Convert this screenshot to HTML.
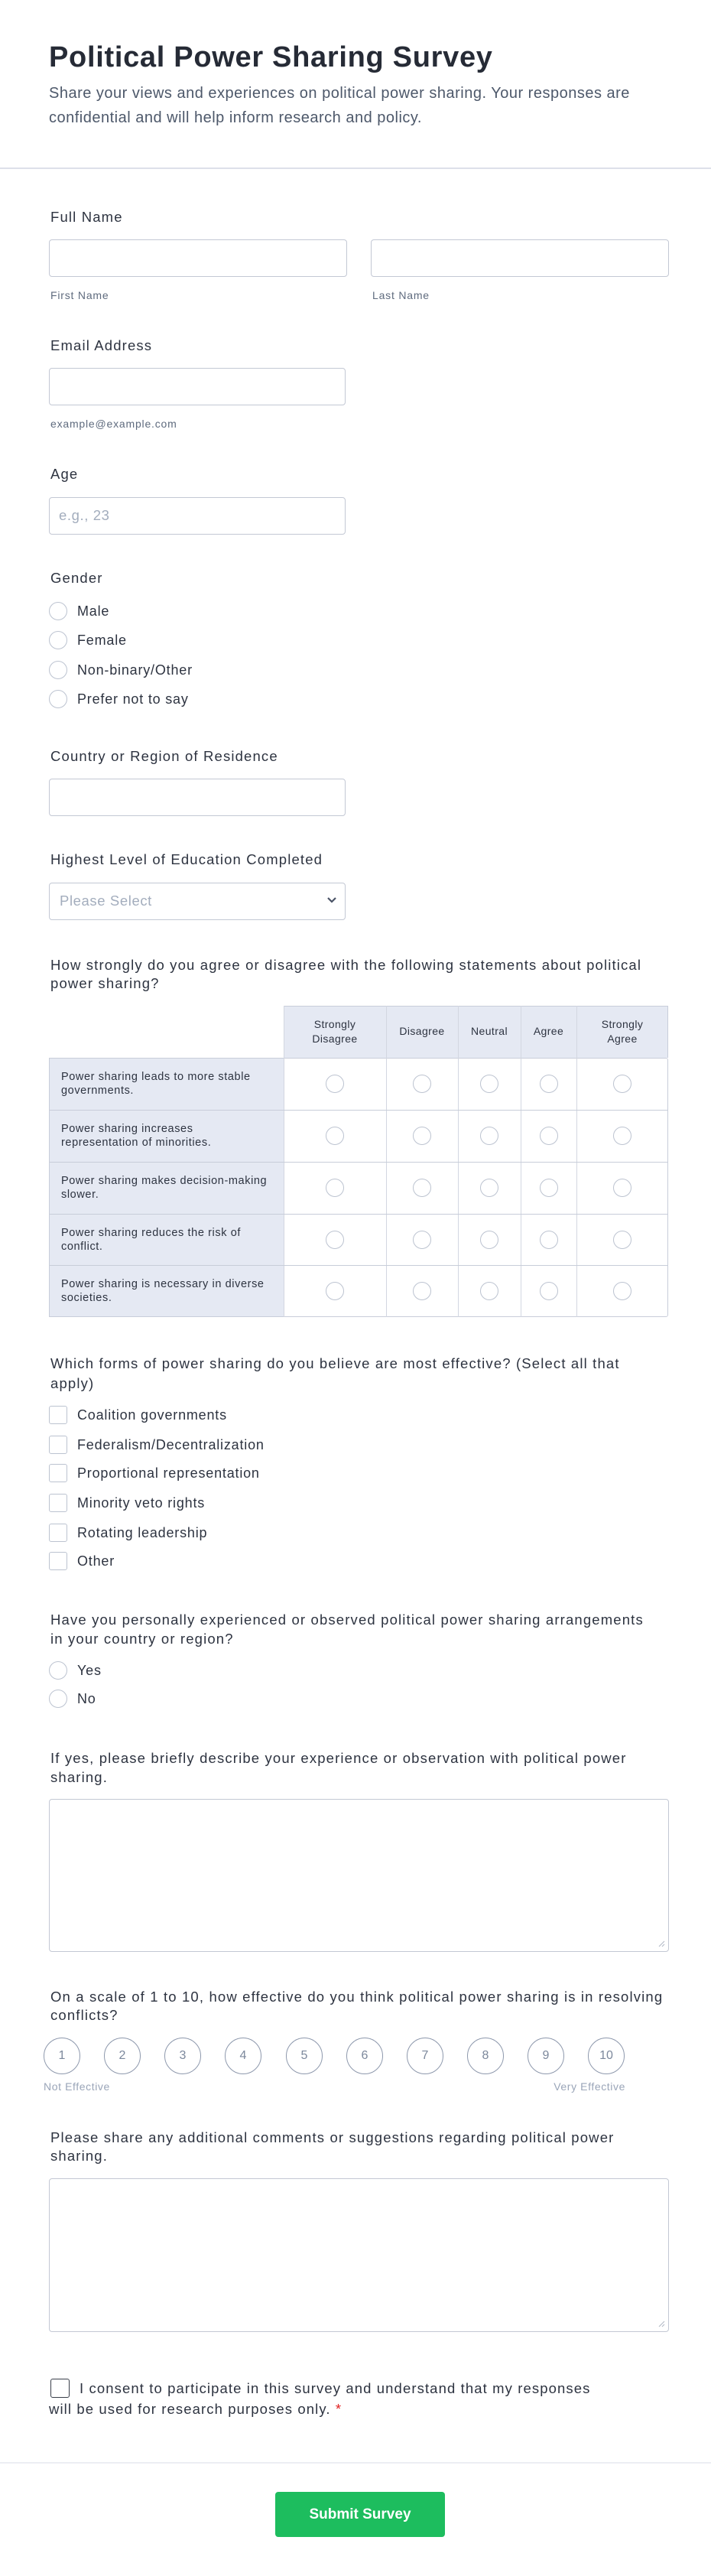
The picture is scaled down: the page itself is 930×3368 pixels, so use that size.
<!DOCTYPE html>
<html><head><meta charset="utf-8">
<style>
*{box-sizing:border-box;margin:0;padding:0}
html,body{width:930px;height:3368px;background:#fff;font-family:"Liberation Sans",sans-serif;color:#2d3340;position:relative;overflow:hidden}
.a{position:absolute;white-space:nowrap}
.lbl{font-size:18.5px;line-height:24px;color:#2d3340;letter-spacing:1.15px}
.opt{font-size:18px;line-height:24px;color:#2d3340;letter-spacing:0.8px}
.sub{font-size:14px;line-height:18px;color:#5f6b7e;letter-spacing:0.8px}
.inp{position:absolute;border:1px solid #c3c8d4;border-radius:4px;background:#fff;height:49px}
.rad{position:absolute;width:24px;height:24px;border:1.5px solid #bcc3d0;border-radius:50%;background:#fff}
.chk{position:absolute;width:24px;height:24px;border:1.5px solid #bcc3d0;border-radius:3px;background:#fff}
.sc{position:absolute;width:48px;height:48px;border:1.5px solid #8e99ad;border-radius:50%;font-size:16px;line-height:45px;text-align:center;color:#7c889c}
.rl{font-size:14.5px;line-height:18px;color:#2d3340;letter-spacing:0.6px}
.th{text-align:center;font-size:14px;line-height:19px;color:#2d3340;letter-spacing:0.4px}
</style></head><body>

<div class="a" style="left:64px;top:51px;font-size:38px;line-height:48px;font-weight:bold;color:#262b36;letter-spacing:0.7px">Political Power Sharing Survey</div>
<div class="a" style="left:64px;top:106px;font-size:20px;line-height:32px;color:#4d586a;letter-spacing:0.5px">Share your views and experiences on political power sharing. Your responses are<br>confidential and will help inform research and policy.</div>
<div class="a" style="left:0;top:219px;width:930px;height:2px;background:#dde0ea"></div>

<div class="a lbl" style="left:66px;top:272px">Full Name</div>
<div class="inp" style="left:64px;top:313px;width:390px"></div>
<div class="inp" style="left:485px;top:313px;width:390px"></div>
<div class="a sub" style="left:66px;top:377px">First Name</div>
<div class="a sub" style="left:487px;top:377px">Last Name</div>

<div class="a lbl" style="left:66px;top:440px">Email Address</div>
<div class="inp" style="left:64px;top:481px;width:388px"></div>
<div class="a sub" style="left:66px;top:545px">example@example.com</div>

<div class="a lbl" style="left:66px;top:608px">Age</div>
<div class="inp" style="left:64px;top:650px;width:388px"></div>
<div class="a" style="left:77px;top:662px;font-size:18.5px;line-height:24px;color:#a3adbd;letter-spacing:0.6px">e.g., 23</div>

<div class="a lbl" style="left:66px;top:744px">Gender</div>
<div class="rad" style="left:64px;top:787px"></div><div class="a opt" style="left:101px;top:787px">Male</div>
<div class="rad" style="left:64px;top:825px"></div><div class="a opt" style="left:101px;top:825px">Female</div>
<div class="rad" style="left:64px;top:864px"></div><div class="a opt" style="left:101px;top:864px">Non-binary/Other</div>
<div class="rad" style="left:64px;top:902px"></div><div class="a opt" style="left:101px;top:902px">Prefer not to say</div>

<div class="a lbl" style="left:66px;top:977px">Country or Region of Residence</div>
<div class="inp" style="left:64px;top:1018px;width:388px"></div>

<div class="a lbl" style="left:66px;top:1112px">Highest Level of Education Completed</div>
<div class="inp" style="left:64px;top:1154px;width:388px"></div>
<div class="a" style="left:78px;top:1166px;font-size:18.5px;line-height:24px;color:#a3adbd;letter-spacing:0.6px">Please Select</div>
<svg class="a" style="left:427px;top:1172px" width="14" height="10" viewBox="0 0 14 10"><path d="M2 2 L7 7 L12 2" fill="none" stroke="#4a5366" stroke-width="2.2"/></svg>

<div class="a lbl" style="left:66px;top:1250px">How strongly do you agree or disagree with the following statements about political<br>power sharing?</div>

<div class="a" style="left:371px;top:1315px;width:503px;height:68px;background:#e5e9f3;border:1px solid #c8cdd9;border-bottom:none"></div>
<div class="a" style="left:64px;top:1383px;width:810px;height:339px;border:1px solid #c8cdd9;border-radius:3px"></div>
<div class="a" style="left:64px;top:1383px;width:307px;height:339px;background:#e5e9f3;border:1px solid #c8cdd9;border-right:none"></div>
<div class="a" style="left:505px;top:1315px;width:1px;height:407px;background:#d3d7e1"></div>
<div class="a" style="left:599px;top:1315px;width:1px;height:407px;background:#d3d7e1"></div>
<div class="a" style="left:681px;top:1315px;width:1px;height:407px;background:#d3d7e1"></div>
<div class="a" style="left:754px;top:1315px;width:1px;height:407px;background:#d3d7e1"></div>
<div class="a" style="left:371px;top:1315px;width:1px;height:407px;background:#d3d7e1"></div>
<div class="a" style="left:64px;top:1451px;width:810px;height:1px;background:#c8cdd9"></div>
<div class="a" style="left:64px;top:1519px;width:810px;height:1px;background:#c8cdd9"></div>
<div class="a" style="left:64px;top:1587px;width:810px;height:1px;background:#c8cdd9"></div>
<div class="a" style="left:64px;top:1654px;width:810px;height:1px;background:#c8cdd9"></div>

<div class="a th" style="left:371px;top:1330px;width:134px">Strongly<br>Disagree</div>
<div class="a th" style="left:505px;top:1339px;width:94px">Disagree</div>
<div class="a th" style="left:599px;top:1339px;width:82px">Neutral</div>
<div class="a th" style="left:681px;top:1339px;width:73px">Agree</div>
<div class="a th" style="left:754px;top:1330px;width:120px">Strongly<br>Agree</div>

<div class="a rl" style="left:80px;top:1399px">Power sharing leads to more stable<br>governments.</div>
<div class="a rl" style="left:80px;top:1467px">Power sharing increases<br>representation of minorities.</div>
<div class="a rl" style="left:80px;top:1535px">Power sharing makes decision-making<br>slower.</div>
<div class="a rl" style="left:80px;top:1603px">Power sharing reduces the risk of<br>conflict.</div>
<div class="a rl" style="left:80px;top:1670px">Power sharing is necessary in diverse<br>societies.</div>

<div class="rad" style="left:426px;top:1405px"></div><div class="rad" style="left:540px;top:1405px"></div><div class="rad" style="left:628px;top:1405px"></div><div class="rad" style="left:706px;top:1405px"></div><div class="rad" style="left:802px;top:1405px"></div>
<div class="rad" style="left:426px;top:1473px"></div><div class="rad" style="left:540px;top:1473px"></div><div class="rad" style="left:628px;top:1473px"></div><div class="rad" style="left:706px;top:1473px"></div><div class="rad" style="left:802px;top:1473px"></div>
<div class="rad" style="left:426px;top:1541px"></div><div class="rad" style="left:540px;top:1541px"></div><div class="rad" style="left:628px;top:1541px"></div><div class="rad" style="left:706px;top:1541px"></div><div class="rad" style="left:802px;top:1541px"></div>
<div class="rad" style="left:426px;top:1609px"></div><div class="rad" style="left:540px;top:1609px"></div><div class="rad" style="left:628px;top:1609px"></div><div class="rad" style="left:706px;top:1609px"></div><div class="rad" style="left:802px;top:1609px"></div>
<div class="rad" style="left:426px;top:1676px"></div><div class="rad" style="left:540px;top:1676px"></div><div class="rad" style="left:628px;top:1676px"></div><div class="rad" style="left:706px;top:1676px"></div><div class="rad" style="left:802px;top:1676px"></div>

<div class="a lbl" style="left:66px;top:1770px;line-height:26px">Which forms of power sharing do you believe are most effective? (Select all that<br>apply)</div>
<div class="chk" style="left:64px;top:1838px"></div><div class="a opt" style="left:101px;top:1838px">Coalition governments</div>
<div class="chk" style="left:64px;top:1877px"></div><div class="a opt" style="left:101px;top:1877px">Federalism/Decentralization</div>
<div class="chk" style="left:64px;top:1914px"></div><div class="a opt" style="left:101px;top:1914px">Proportional representation</div>
<div class="chk" style="left:64px;top:1953px"></div><div class="a opt" style="left:101px;top:1953px">Minority veto rights</div>
<div class="chk" style="left:64px;top:1992px"></div><div class="a opt" style="left:101px;top:1992px">Rotating leadership</div>
<div class="chk" style="left:64px;top:2029px"></div><div class="a opt" style="left:101px;top:2029px">Other</div>

<div class="a lbl" style="left:66px;top:2105px;line-height:25px">Have you personally experienced or observed political power sharing arrangements<br>in your country or region?</div>
<div class="rad" style="left:64px;top:2172px"></div><div class="a opt" style="left:101px;top:2172px">Yes</div>
<div class="rad" style="left:64px;top:2209px"></div><div class="a opt" style="left:101px;top:2209px">No</div>

<div class="a lbl" style="left:66px;top:2286px;line-height:25px">If yes, please briefly describe your experience or observation with political power<br>sharing.</div>
<div class="inp" style="left:64px;top:2352px;width:811px;height:200px"></div>
<svg class="a" style="left:860px;top:2536px" width="10" height="10"><path d="M2 9 L9 2 M6 9 L9 6" stroke="#b0b7c4" stroke-width="1"/></svg>

<div class="a lbl" style="left:66px;top:2599px;line-height:24px">On a scale of 1 to 10, how effective do you think political power sharing is in resolving<br>conflicts?</div>
<div class="sc" style="left:57px;top:2664px">1</div>
<div class="sc" style="left:136px;top:2664px">2</div>
<div class="sc" style="left:215px;top:2664px">3</div>
<div class="sc" style="left:294px;top:2664px">4</div>
<div class="sc" style="left:374px;top:2664px">5</div>
<div class="sc" style="left:453px;top:2664px">6</div>
<div class="sc" style="left:532px;top:2664px">7</div>
<div class="sc" style="left:611px;top:2664px">8</div>
<div class="sc" style="left:690px;top:2664px">9</div>
<div class="sc" style="left:769px;top:2664px">10</div>
<div class="a" style="left:57px;top:2719px;font-size:14px;line-height:18px;color:#9aa5b8;letter-spacing:0.6px">Not Effective</div>
<div class="a" style="left:700px;top:2719px;width:118px;text-align:right;font-size:14px;line-height:18px;color:#9aa5b8;letter-spacing:0.6px">Very Effective</div>

<div class="a lbl" style="left:66px;top:2783px;line-height:24px">Please share any additional comments or suggestions regarding political power<br>sharing.</div>
<div class="inp" style="left:64px;top:2848px;width:811px;height:201px"></div>
<svg class="a" style="left:860px;top:3033px" width="10" height="10"><path d="M2 9 L9 2 M6 9 L9 6" stroke="#b0b7c4" stroke-width="1"/></svg>

<div class="a" style="left:66px;top:3110px;width:25px;height:25px;border:1.5px solid #3a3f4a;border-radius:3px"></div>
<div class="a" style="left:64px;top:3109px;font-size:18.5px;line-height:27px;color:#2d3340;letter-spacing:1.1px"><span style="padding-left:40px">I consent to participate in this survey and understand that my responses</span><br>will be used for research purposes only. <span style="color:#e02424">*</span></div>

<div class="a" style="left:0;top:3219px;width:930px;height:2px;background:#eceef3"></div>
<div class="a" style="left:360px;top:3258px;width:222px;height:59px;background:#1dbd5e;border-radius:4px;color:#fff;font-size:19px;font-weight:bold;line-height:59px;text-align:center">Submit Survey</div>
</body></html>
